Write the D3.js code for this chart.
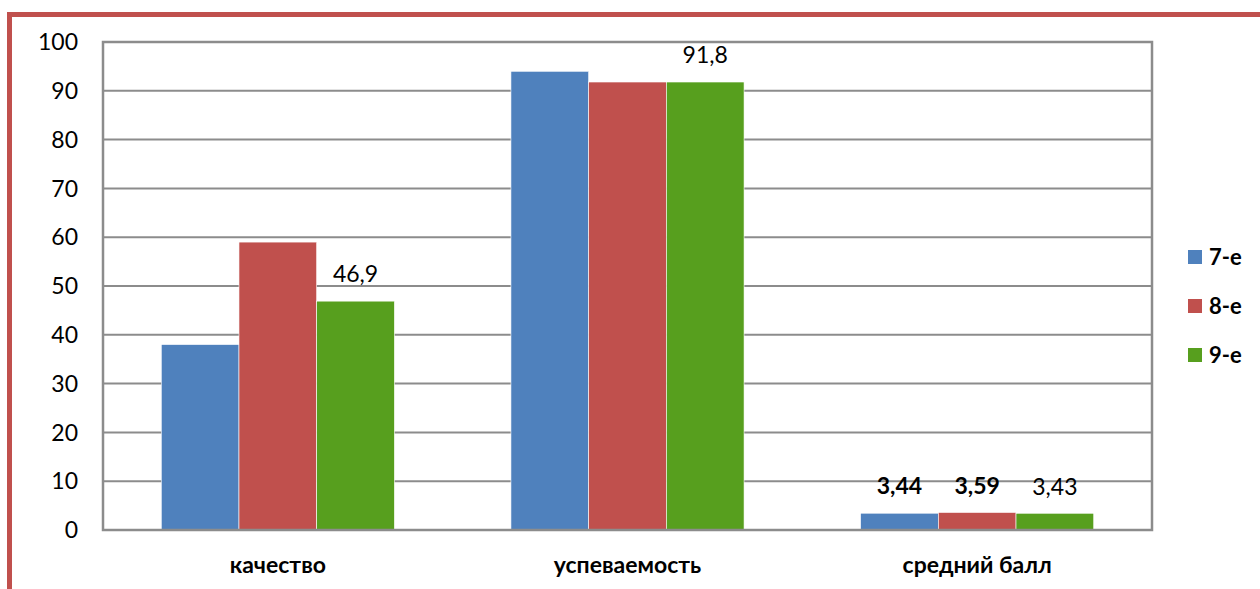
<!DOCTYPE html>
<html>
<head>
<meta charset="utf-8">
<script src="https://cdn.jsdelivr.net/npm/d3@7"></script>
<style>
  body { margin: 0; background: #fff; }
  svg { display: block; font-family: Lato, "Open Sans", sans-serif; }
</style>
</head>
<body>
<div id="chart"></div>
<script>
var width = 1260,
    height = 589;

// data
var categories = ["качество", "успеваемость", "средний балл"];
var seriesNames = ["7-е", "8-е", "9-е"];
var values7 = [38, 94, 3.44];
var values8 = [59, 91.8, 3.59];
var values9 = [46.9, 91.8, 3.43];
var yTicks = [0, 10, 20, 30, 40, 50, 60, 70, 80, 90, 100];
// labels shown on bars: [series, category, text, bold]
var barLabels = [
    [2, 0, "46,9", false],
    [2, 1, "91,8", false],
    [0, 2, "3,44", true],
    [1, 2, "3,59", true],
    [2, 2, "3,43", false]
];

var colors = ["#4F81BD", "#C0504D", "#579F1E"];
var series = [values7, values8, values9];

var plot = { left: 103, top: 42, right: 1152, bottom: 530 };

var svg = d3.select("#chart").append("svg")
    .attr("width", width)
    .attr("height", height);

// outer red frame (runs off the right and bottom edges)
svg.append("rect")
    .attr("x", 9.5)
    .attr("y", 14.5)
    .attr("width", 1300)
    .attr("height", 700)
    .attr("fill", "none")
    .attr("stroke", "#C0504D")
    .attr("stroke-width", 5);

var x0 = d3.scaleBand()
    .domain(categories)
    .range([plot.left, plot.right])
    .paddingInner(0)
    .paddingOuter(0);

var x1 = d3.scaleBand()
    .domain(d3.range(seriesNames.length))
    .range([0, x0.bandwidth()])
    .paddingOuter(0.75)
    .paddingInner(0);

var y = d3.scaleLinear()
    .domain([0, 100])
    .range([plot.bottom, plot.top]);

// gridlines
svg.append("g")
    .selectAll("line")
    .data(yTicks)
    .enter()
    .append("line")
    .attr("x1", plot.left)
    .attr("x2", plot.right)
    .attr("y1", function(d) { return y(d); })
    .attr("y2", function(d) { return y(d); })
    .attr("stroke", "#8c8c8c")
    .attr("stroke-width", 2);

// y tick labels
svg.append("g")
    .selectAll("text")
    .data(yTicks)
    .enter()
    .append("text")
    .attr("x", 78)
    .attr("y", function(d) { return y(d); })
    .attr("dy", "0.36em")
    .attr("text-anchor", "end")
    .style("font-size", "23px")
    .text(function(d) { return d; });

// bars
var groups = svg.append("g")
    .selectAll("g")
    .data(series)
    .enter()
    .append("g")
    .attr("fill", function(d, i) { return colors[i]; });

groups.selectAll("rect")
    .data(function(d, i) {
        return d.map(function(v, j) { return { s: i, c: j, v: v }; });
    })
    .enter()
    .append("rect")
    .attr("x", function(d) { return x0(categories[d.c]) + x1(d.s); })
    .attr("y", function(d) { return y(d.v); })
    .attr("width", x1.bandwidth())
    .attr("height", function(d) { return y(0) - y(d.v); })
    .attr("stroke", "#ffffff")
    .attr("stroke-width", 0.6);

// plot frame
svg.append("rect")
    .attr("x", plot.left)
    .attr("y", plot.top)
    .attr("width", plot.right - plot.left)
    .attr("height", plot.bottom - plot.top)
    .attr("fill", "none")
    .attr("stroke", "#8c8c8c")
    .attr("stroke-width", 2.5);

// bar value labels
svg.append("g")
    .selectAll("text")
    .data(barLabels)
    .enter()
    .append("text")
    .attr("x", function(d) { return x0(categories[d[1]]) + x1(d[0]) + x1.bandwidth() / 2; })
    .attr("y", function(d) { return y(series[d[0]][d[1]]) - 27; })
    .attr("dy", "0.36em")
    .attr("text-anchor", "middle")
    .style("font-size", "23px")
    .style("font-weight", function(d) { return d[3] ? "bold" : "normal"; })
    .text(function(d) { return d[2]; });

// category labels
svg.append("g")
    .selectAll("text")
    .data(categories)
    .enter()
    .append("text")
    .attr("x", function(d) { return x0(d) + x0.bandwidth() / 2; })
    .attr("y", 565)
    .attr("dy", "0.36em")
    .attr("text-anchor", "middle")
    .style("font-size", "23px")
    .style("font-weight", "bold")
    .text(function(d) { return d; });

// legend
var legend = svg.append("g")
    .selectAll("g")
    .data(seriesNames)
    .enter()
    .append("g")
    .attr("transform", function(d, i) { return "translate(1188," + (257 + i * 49) + ")"; });

legend.append("rect")
    .attr("x", 0)
    .attr("y", -7)
    .attr("width", 14)
    .attr("height", 14)
    .attr("fill", function(d, i) { return colors[i]; });

legend.append("text")
    .attr("x", 21)
    .attr("dy", "0.36em")
    .style("font-size", "22px")
    .style("font-weight", "bold")
    .text(function(d) { return d; });
</script>
</body>
</html>
